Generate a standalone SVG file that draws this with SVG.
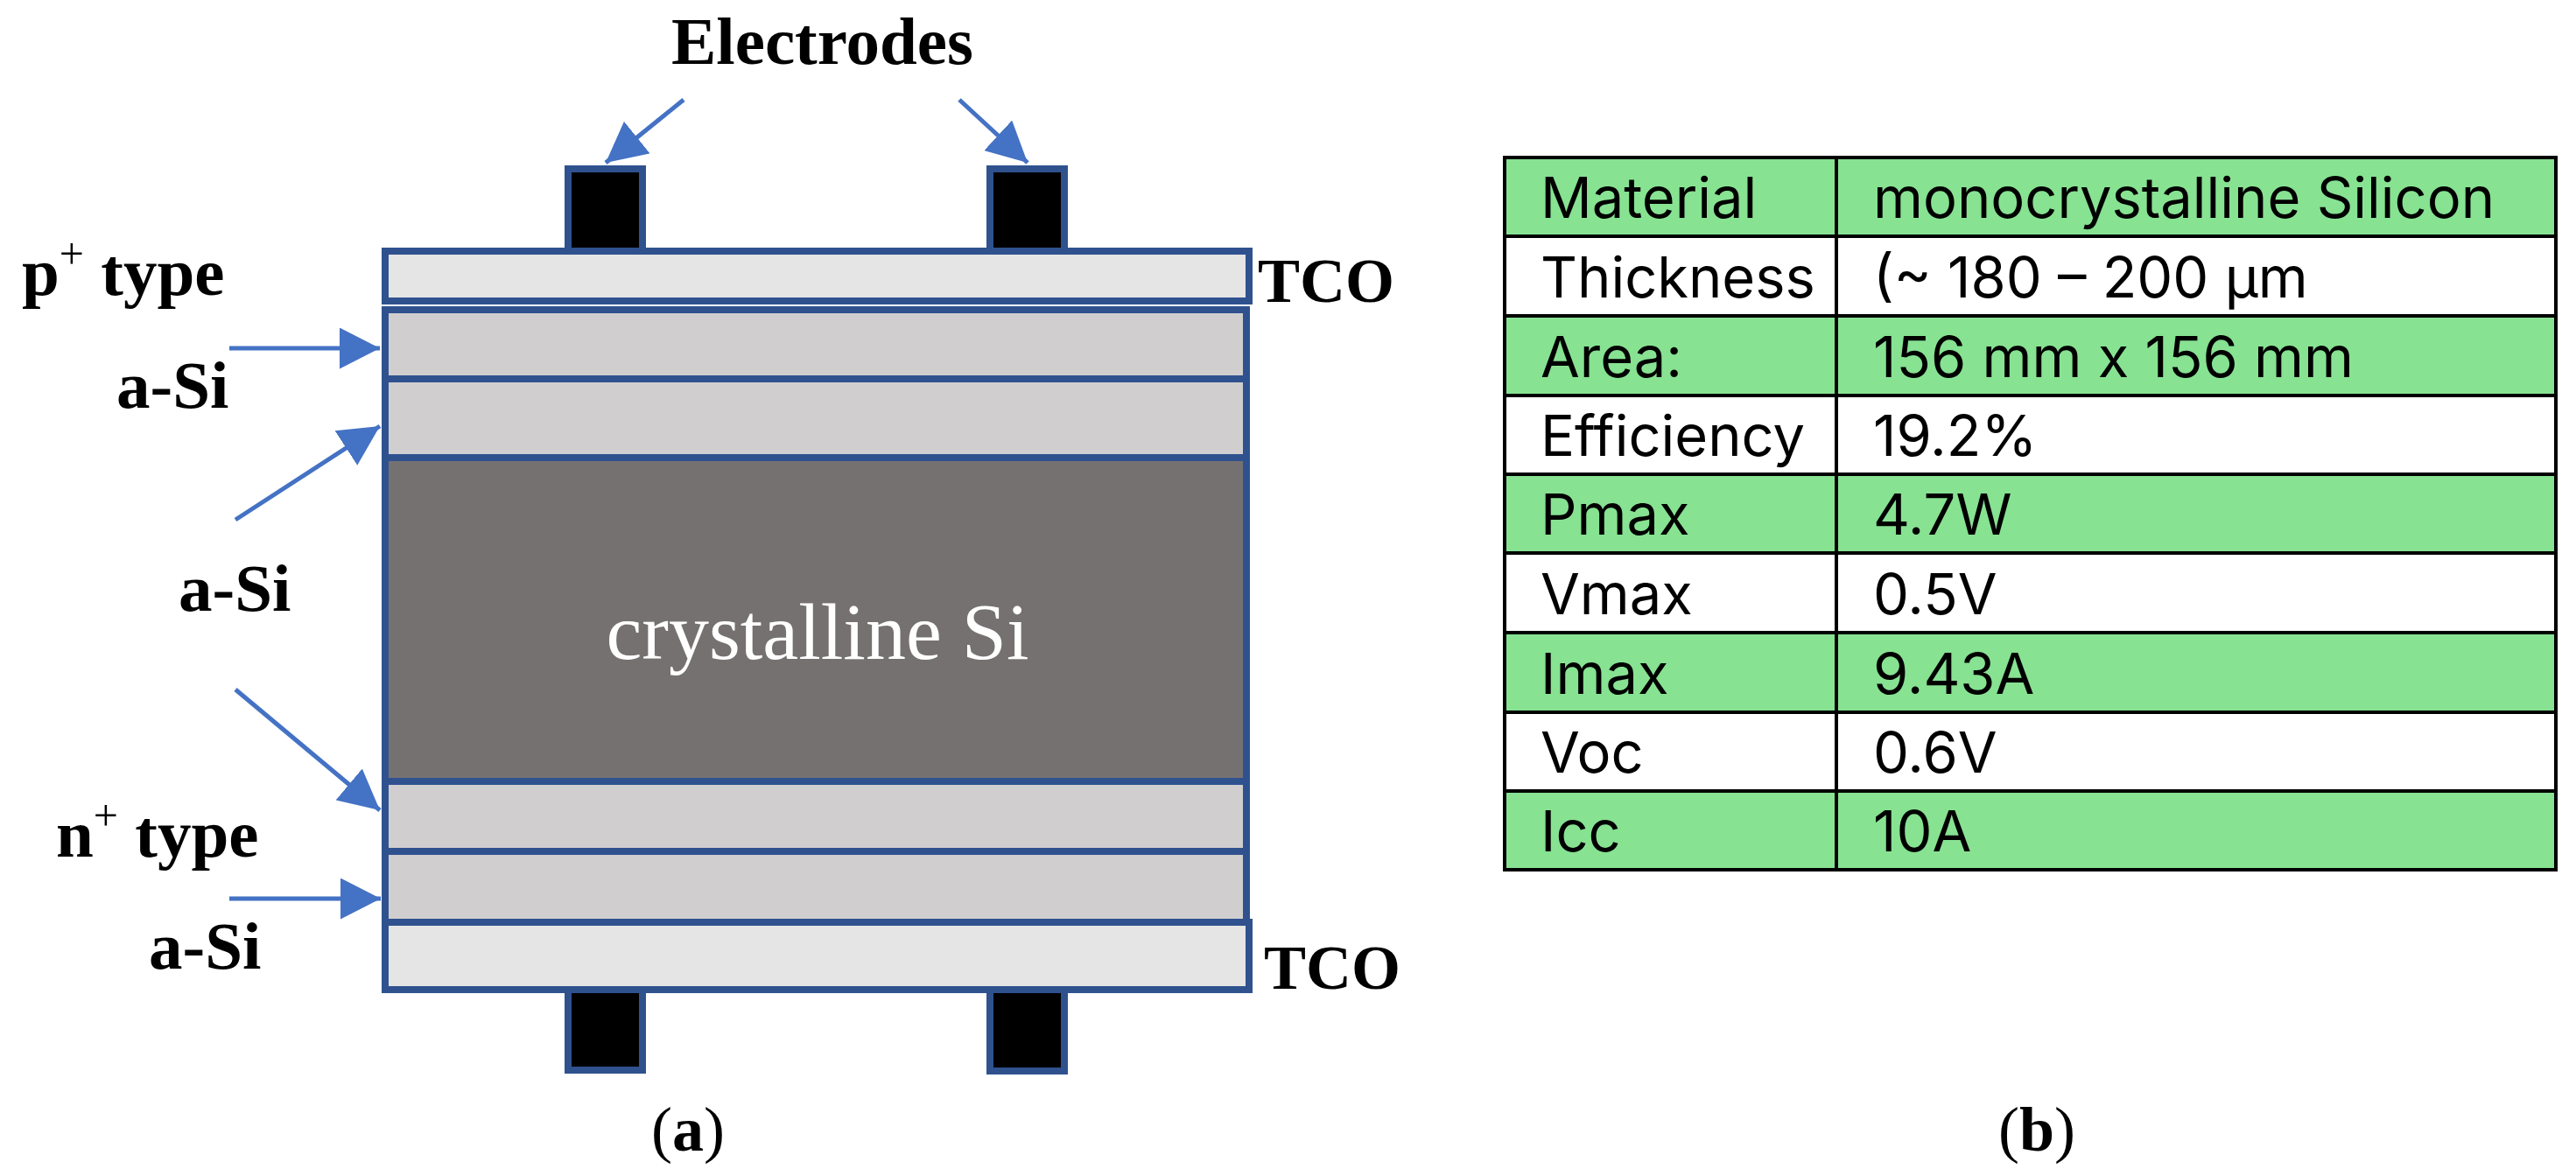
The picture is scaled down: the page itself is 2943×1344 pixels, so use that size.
<svg xmlns="http://www.w3.org/2000/svg" width="2943" height="1344" viewBox="0 0 2943 1344">
<style>
.lbl{font-family:"Liberation Serif","Times New Roman",serif;font-weight:bold;fill:#000}
.tco{font-family:"Liberation Serif","Times New Roman",serif;font-weight:bold;font-size:72px;fill:#000}
.sup{font-weight:normal;font-size:50px}
.layer{stroke:#2F528F;stroke-width:8}
.asi{fill:#D0CECE}
.tc{fill:#E5E5E5}
.csi{fill:#767171}
.elec{fill:#000;stroke:#2F528F;stroke-width:8}
.arr{stroke:#4472C4;stroke-width:5;fill:none;marker-end:url(#ah)}
.cell{stroke:#000;stroke-width:4}
.g{fill:#87E292}
.w{fill:#FFFFFF}
.tt{font-family:Inter,"Noto Sans",sans-serif;font-size:65px;fill:#000}
</style>
<defs>
<marker id="ah" viewBox="0 0 46 47" refX="46" refY="23.5" markerWidth="46" markerHeight="47" markerUnits="userSpaceOnUse" orient="auto">
<path d="M0,0 L46,23.5 L0,47 z" fill="#4472C4"/>
</marker>
</defs>
<rect width="2943" height="1344" fill="#FFFFFF"/>

<g id="electrode-top-left"><rect class="elec" x="649" y="193" width="85" height="94"/></g>
<g id="electrode-top-right"><rect class="elec" x="1131" y="193" width="85" height="94"/></g>
<g id="electrode-bottom-left"><rect class="elec" x="649" y="1131" width="85" height="92"/></g>
<g id="electrode-bottom-right"><rect class="elec" x="1131" y="1131" width="85" height="93"/></g>

<g id="tco-top"><rect class="layer tc" x="440" y="287" width="987" height="57"/></g>
<g id="asi-1"><rect class="layer asi" x="440" y="354" width="984" height="79"/></g>
<g id="asi-2"><rect class="layer asi" x="440" y="433" width="984" height="90"/></g>
<g id="csi"><rect class="layer csi" x="440" y="523" width="984" height="370"/>
<text x="934" y="753" text-anchor="middle" font-family="Liberation Serif,Times New Roman,serif" font-size="92" fill="#FFFFFF">crystalline Si</text></g>
<g id="asi-3"><rect class="layer asi" x="440" y="893" width="984" height="80"/></g>
<g id="asi-4"><rect class="layer asi" x="440" y="973" width="984" height="81"/></g>
<g id="tco-bottom"><rect class="layer tc" x="440" y="1054" width="987" height="77"/></g>

<g id="connectors">
<line class="arr" x1="262" y1="398" x2="434" y2="398"/>
<line class="arr" x1="269" y1="594" x2="434" y2="487"/>
<line class="arr" x1="269" y1="788" x2="434" y2="926"/>
<line class="arr" x1="262" y1="1027" x2="435" y2="1027"/>
<line class="arr" x1="781" y1="114" x2="692" y2="186"/>
<line class="arr" x1="1096" y1="114" x2="1174" y2="186"/>
</g>

<g id="labels">
<text class="lbl" x="767" y="73" font-size="77">Electrodes</text>
<text class="lbl" x="25" y="337" font-size="77">p<tspan class="sup" dy="-30">+</tspan><tspan dy="30"> type</tspan></text>
<text class="lbl" x="133" y="466" font-size="77">a-Si</text>
<text class="lbl" x="204" y="698" font-size="77">a-Si</text>
<text class="lbl" x="64" y="979" font-size="77">n<tspan class="sup" dy="-30">+</tspan><tspan dy="30"> type</tspan></text>
<text class="lbl" x="170" y="1107" font-size="77">a-Si</text>
<text class="tco" x="1437" y="345">TCO</text>
<text class="tco" x="1444" y="1130">TCO</text>
<text x="786" y="1315" text-anchor="middle" font-family="Liberation Serif,Times New Roman,serif" font-size="72">(<tspan font-weight="bold">a</tspan>)</text>
<text x="2327" y="1315" text-anchor="middle" font-family="Liberation Serif,Times New Roman,serif" font-size="72">(<tspan font-weight="bold">b</tspan>)</text>
</g>

<g id="table">
<rect class="cell g" x="1719" y="180" width="379" height="90"/><rect class="cell g" x="2098" y="180" width="822" height="90"/>
<rect class="cell w" x="1719" y="270" width="379" height="91"/><rect class="cell w" x="2098" y="270" width="822" height="91"/>
<rect class="cell g" x="1719" y="361" width="379" height="91"/><rect class="cell g" x="2098" y="361" width="822" height="91"/>
<rect class="cell w" x="1719" y="452" width="379" height="90"/><rect class="cell w" x="2098" y="452" width="822" height="90"/>
<rect class="cell g" x="1719" y="542" width="379" height="90"/><rect class="cell g" x="2098" y="542" width="822" height="90"/>
<rect class="cell w" x="1719" y="632" width="379" height="91"/><rect class="cell w" x="2098" y="632" width="822" height="91"/>
<rect class="cell g" x="1719" y="723" width="379" height="91"/><rect class="cell g" x="2098" y="723" width="822" height="91"/>
<rect class="cell w" x="1719" y="814" width="379" height="90"/><rect class="cell w" x="2098" y="814" width="822" height="90"/>
<rect class="cell g" x="1719" y="904" width="379" height="90"/><rect class="cell g" x="2098" y="904" width="822" height="90"/>
<text class="tt" x="1760" y="249">Material</text><text class="tt" x="2140" y="249">monocrystalline Silicon</text>
<text class="tt" x="1760" y="340">Thickness</text><text class="tt" x="2140" y="340">(~ 180 – 200 μm</text>
<text class="tt" x="1760" y="431">Area:</text><text class="tt" x="2140" y="431">156 mm x 156 mm</text>
<text class="tt" x="1760" y="521">Efficiency</text><text class="tt" x="2140" y="521">19.2%</text>
<text class="tt" x="1760" y="611">Pmax</text><text class="tt" x="2140" y="611">4.7W</text>
<text class="tt" x="1760" y="702">Vmax</text><text class="tt" x="2140" y="702">0.5V</text>
<text class="tt" x="1760" y="793">Imax</text><text class="tt" x="2140" y="793">9.43A</text>
<text class="tt" x="1760" y="883">Voc</text><text class="tt" x="2140" y="883">0.6V</text>
<text class="tt" x="1760" y="973">Icc</text><text class="tt" x="2140" y="973">10A</text>
</g>
</svg>
